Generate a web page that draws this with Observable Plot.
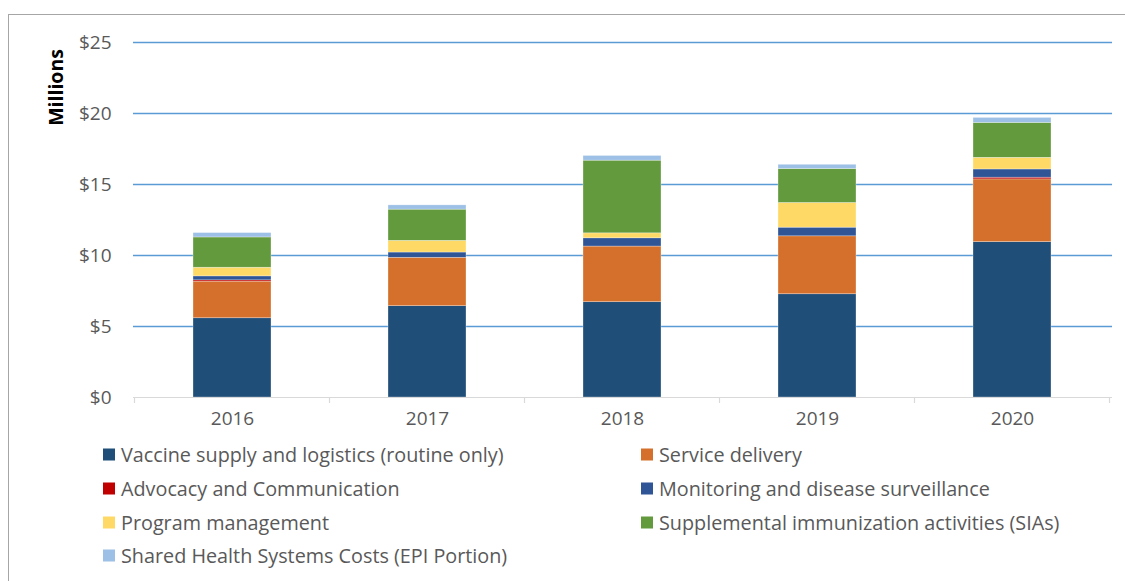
<!DOCTYPE html>
<html>
<head>
<meta charset="utf-8">
<script src="https://cdn.jsdelivr.net/npm/d3@7"></script>
<script src="https://cdn.jsdelivr.net/npm/@observablehq/plot@0.6"></script>
<style>
  html, body { margin: 0; padding: 0; background: #fff; overflow: hidden; }
  #wrap { position: relative; width: 1125px; height: 581px; font-family: "Open Sans", Lato, sans-serif; }
  #frame { position: absolute; left: 8px; top: 14px; width: 1200px; height: 700px; border: 1px solid #A6A6A6; box-sizing: border-box; }
  #chart { position: absolute; left: 0; top: 0; }
  #legend { position: absolute; left: 0; top: 0; width: 1125px; height: 581px; pointer-events: none; }
  .item { position: absolute; display: flex; align-items: center; font-size: 19.8px; color: #595959; white-space: nowrap; transform: translateY(-50%); }
  .sw { width: 12px; height: 12px; margin-right: 6px; }
</style>
</head>
<body>
<div id="wrap">
  <div id="frame"></div>
  <div id="chart"></div>
  <div id="legend"></div>
</div>
<script>
const years = ["2016", "2017", "2018", "2019", "2020"];
const categories = [
  "Vaccine supply and logistics (routine only)",
  "Service delivery",
  "Advocacy and Communication",
  "Monitoring and disease surveillance",
  "Program management",
  "Supplemental immunization activities (SIAs)",
  "Shared Health Systems Costs (EPI Portion)"
];
const colors = ["#1F4E79", "#D4702B", "#C00000", "#2F5597", "#FFD966", "#649A3E", "#9DC0E6"];
// values in millions USD, per category, per year
const vaccineSupply = [5.58, 6.43, 6.71, 7.27, 10.94];
const serviceDelivery = [2.58, 3.41, 3.92, 4.08, 4.42];
const advocacy = [0.09, 0.0, 0.0, 0.0, 0.12];
const monitoring = [0.28, 0.37, 0.58, 0.61, 0.58];
const programMgmt = [0.61, 0.82, 0.35, 1.74, 0.82];
const sias = [2.13, 2.20, 5.12, 2.39, 2.46];
const sharedHealth = [0.31, 0.30, 0.33, 0.30, 0.35];
const yTicks = [0, 5, 10, 15, 20, 25];

const series = [vaccineSupply, serviceDelivery, advocacy, monitoring, programMgmt, sias, sharedHealth];
const data = [];
years.forEach((yr, i) => {
  categories.forEach((c, j) => data.push({year: yr, category: c, value: series[j][i]}));
});

const W = 1125, H = 440;
const plot = Plot.plot({
  width: W,
  height: H,
  marginLeft: 133,
  marginRight: 13,
  marginTop: 42,
  marginBottom: 43,
  style: {fontFamily: "'Open Sans', Lato, sans-serif", fontSize: "19px", color: "#595959", background: "transparent"},
  x: {domain: years, paddingInner: 0.6, paddingOuter: 0.3, label: null, tickSize: 0, tickPadding: 14},
  y: {domain: [0, 25], ticks: yTicks, label: null, tickSize: 0, tickPadding: 22, tickFormat: d => "$" + d},
  color: {domain: categories, range: colors},
  marks: [
    Plot.gridY(yTicks.filter(d => d > 0), {stroke: "#5B9BD5", strokeWidth: 1.6, strokeOpacity: 1}),
    Plot.barY(data, Plot.stackY({
      x: "year", y: "value", fill: "category", order: categories,
      stroke: "#ffffff", strokeWidth: 0.6, strokeOpacity: 0.5
    })),
    Plot.ruleY([0], {stroke: "#D9D9D9", strokeWidth: 1.2})
  ]
});
document.getElementById("chart").appendChild(plot);

// category boundary ticks on x axis, from the band scale
const sx = plot.scale("x");
const sy = plot.scale("y");
const svg = d3.select(plot);
const step = sx.step, bw = sx.bandwidth;
const xStart = sx.apply(years[0]) - (step - bw) / 2;
const y0 = sy.apply(0);
const bounds = d3.range(years.length + 1).map(i => xStart + i * step);
svg.append("g").selectAll("line").data(bounds).join("line")
  .attr("x1", d => d).attr("x2", d => d)
  .attr("y1", y0).attr("y2", y0 + 6)
  .attr("stroke", "#D9D9D9").attr("stroke-width", 1.2);

// y-axis title
svg.append("text")
  .attr("transform", `translate(63, ${sy.apply(21.8)}) rotate(-90)`)
  .attr("text-anchor", "middle")
  .attr("font-weight", "bold")
  .attr("font-size", "19.5px")
  .attr("fill", "#000")
  .text("Millions");

// legend (two columns)
const legend = document.getElementById("legend");
const colX = [103, 641];
const rowY = [454, 488, 522, 555];
categories.forEach((c, i) => {
  const div = document.createElement("div");
  div.className = "item";
  div.style.left = colX[i % 2] + "px";
  div.style.top = rowY[Math.floor(i / 2)] + "px";
  const sw = document.createElement("span");
  sw.className = "sw";
  sw.style.background = colors[i];
  div.appendChild(sw);
  div.appendChild(document.createTextNode(c));
  legend.appendChild(div);
});
</script>
</body>
</html>
